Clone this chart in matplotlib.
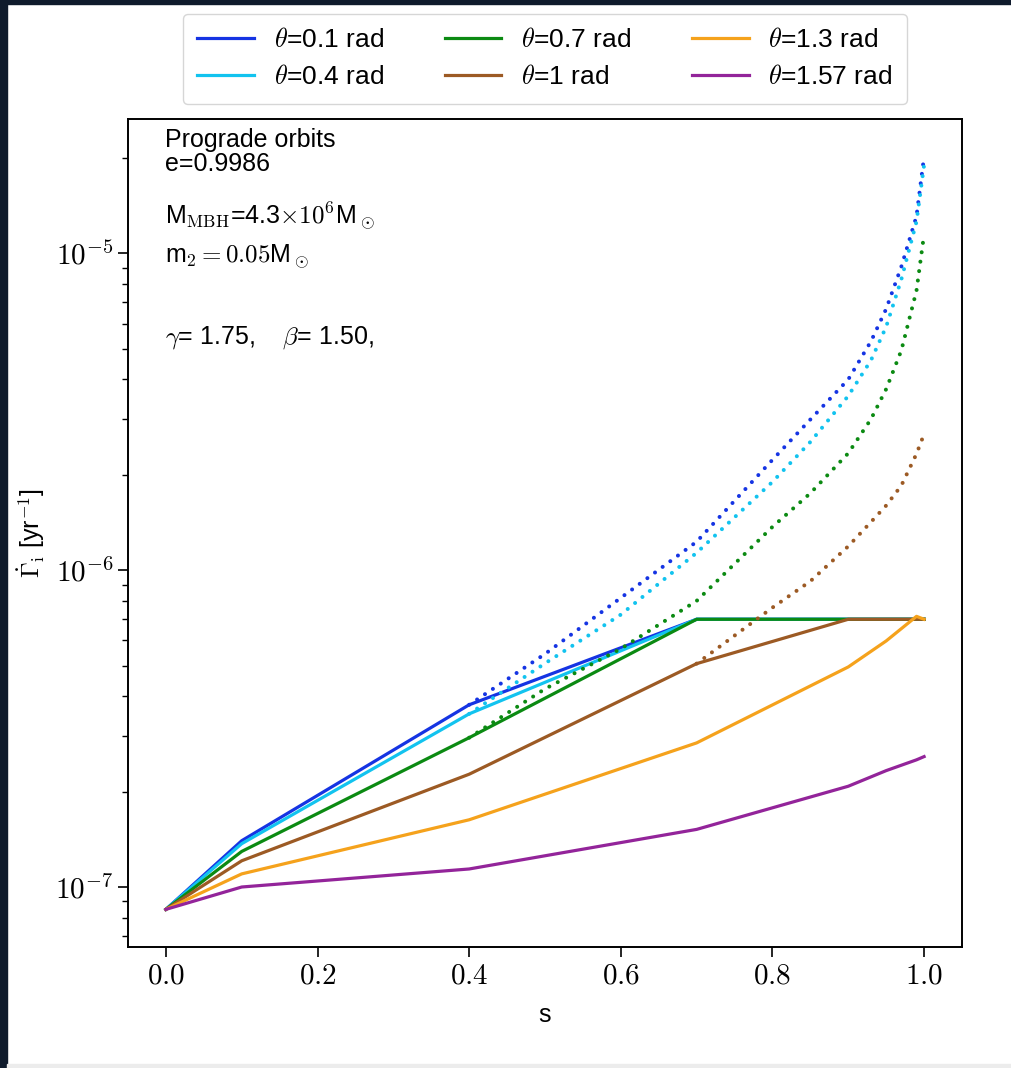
import numpy as np
import matplotlib
matplotlib.use('Agg')
import matplotlib.pyplot as plt
from matplotlib.ticker import FuncFormatter, NullFormatter, LogLocator, FixedLocator
from matplotlib.patches import Rectangle

plt.rcParams['mathtext.fontset'] = 'cm'
plt.rcParams['font.family'] = ['Liberation Sans', 'DejaVu Sans']

# capped rates (solid lines)
s_solid = [0.0, 0.1, 0.4, 0.7, 0.9, 0.95, 0.99, 1.0]
g_01 = [8.5e-8, 1.40e-7, 3.76e-7, 7.0e-7, 7.0e-7, 7.0e-7, 7.0e-7, 7.0e-7]
g_04 = [8.5e-8, 1.37e-7, 3.52e-7, 7.0e-7, 7.0e-7, 7.0e-7, 7.0e-7, 7.0e-7]
g_07 = [8.5e-8, 1.295e-7, 2.96e-7, 7.0e-7, 7.0e-7, 7.0e-7, 7.0e-7, 7.0e-7]
g_10 = [8.5e-8, 1.21e-7, 2.27e-7, 5.07e-7, 7.0e-7, 7.0e-7, 7.0e-7, 7.0e-7]
g_13 = [8.5e-8, 1.10e-7, 1.63e-7, 2.85e-7, 4.95e-7, 5.98e-7, 7.15e-7, 7.0e-7]
g_157 = [8.5e-8, 1.00e-7, 1.14e-7, 1.52e-7, 2.08e-7, 2.33e-7, 2.52e-7, 2.58e-7]

# uncapped rates (dotted lines)
s_dot = [0.4, 0.5, 0.6, 0.7, 0.8, 0.85, 0.9, 0.93, 0.95, 0.97, 0.99, 1.0]
d_01 = [3.76e-7, 5.44e-7, 8.18e-7, 1.23e-6, 2.23e-6, 2.99e-6, 4.0e-6, 5.28e-6, 6.68e-6, 9.08e-6, 1.31e-5, 2.02e-5]
d_04 = [3.52e-7, 5.08e-7, 7.24e-7, 1.135e-6, 1.90e-6, 2.54e-6, 3.55e-6, 4.6e-6, 5.87e-6, 8.28e-6, 1.26e-5, 1.9e-5]
d_07 = [2.96e-7, 4.22e-7, 5.65e-7, 8.0e-7, 1.37e-6, 1.75e-6, 2.34e-6, 3.0e-6, 3.73e-6, 4.94e-6, 7.63e-6, 1.15e-5]
s_dot10 = [0.7, 0.8, 0.85, 0.9, 0.93, 0.95, 0.97, 0.99, 1.0]
d_10 = [5.07e-7, 7.62e-7, 9.23e-7, 1.19e-6, 1.42e-6, 1.60e-6, 1.85e-6, 2.33e-6, 2.69e-6]

labels = [r'$\theta$=0.1 rad', r'$\theta$=0.4 rad', r'$\theta$=0.7 rad',
          r'$\theta$=1 rad', r'$\theta$=1.3 rad', r'$\theta$=1.57 rad']
colors = ['#1534e3', '#12c3ef', '#0b8a12', '#9c5a24', '#f5a21c', '#93249a']

fs = 18

fig = plt.figure(figsize=(10.12, 10.68), dpi=100)
fig.patch.set_facecolor('white')
# screenshot edges
fig.patches.append(Rectangle((0, 0), 7/1012, 1, transform=fig.transFigure, color='#0f1b2c', zorder=-1))
fig.patches.append(Rectangle((0, 1 - 4/1068), 1, 4/1068, transform=fig.transFigure, color='#0f1b2c', zorder=-1))
fig.patches.append(Rectangle((7/1012, 0), 1, 4/1068, transform=fig.transFigure, color='#ececec', zorder=-1))

ax = fig.add_axes([128/1012, 121/1068, 834/1012, 828/1068])

solid = [g_01, g_04, g_07, g_10, g_13, g_157]
for g, c, lab in zip(solid, colors, labels):
    ax.plot(s_solid, g, color=c, lw=2.3, label=lab)
dot_style = dict(lw=2.9, ls=(0, (0.01, 2.35)), dash_capstyle='round')
for d, c in zip([d_01, d_04, d_07], colors[:3]):
    ax.plot(s_dot, d, color=c, **dot_style)
ax.plot(s_dot10, d_10, color=colors[3], **dot_style)

ax.set_yscale('log')
ax.yaxis.set_major_locator(LogLocator(base=10))
ax.yaxis.set_major_formatter(FuncFormatter(lambda v, p: r'$10^{%d}$' % round(np.log10(v))))
ax.yaxis.set_minor_formatter(NullFormatter())
ax.xaxis.set_major_locator(FixedLocator([0, 0.2, 0.4, 0.6, 0.8, 1.0]))
ax.xaxis.set_major_formatter(FuncFormatter(lambda v, p: r'$%.1f$' % v))
ax.tick_params(which='major', length=7, width=1.2, labelsize=21)
ax.tick_params(which='minor', length=4, width=1.0)
for sp in ax.spines.values():
    sp.set_linewidth(1.4)

ax.set_xlabel('s', fontsize=fs, labelpad=10)
ax.set_ylabel(r'$\dot{\Gamma}_{\rm i}$ [yr$^{-1}$]', fontsize=fs, labelpad=6)

tx = 0.044
ax.text(tx, 0.966, 'Prograde orbits', transform=ax.transAxes, fontsize=fs, va='baseline')
ax.text(tx, 0.937, 'e=0.9986', transform=ax.transAxes, fontsize=fs, va='baseline')
ax.text(tx, 0.872, r'M$_{\rm MBH}$=4.3$\times10^6$M$_\odot$', transform=ax.transAxes, fontsize=fs, va='baseline')
ax.text(tx, 0.826, r'm$_2 = 0.05$M$_\odot$', transform=ax.transAxes, fontsize=fs, va='baseline')
ax.text(tx, 0.729, r'$\gamma$= 1.75,    $\beta$= 1.50,', transform=ax.transAxes, fontsize=fs, va='baseline')

fig.legend(loc='lower center', bbox_to_anchor=(545/1012, 1 - 104/1068), ncol=3,
           fontsize=19, handlelength=2.15, handletextpad=0.75, columnspacing=2.3,
           labelspacing=0.5, borderpad=0.55, borderaxespad=0, frameon=True,
           edgecolor='#cccccc', fancybox=True)

fig.savefig('out.png', dpi=100)
